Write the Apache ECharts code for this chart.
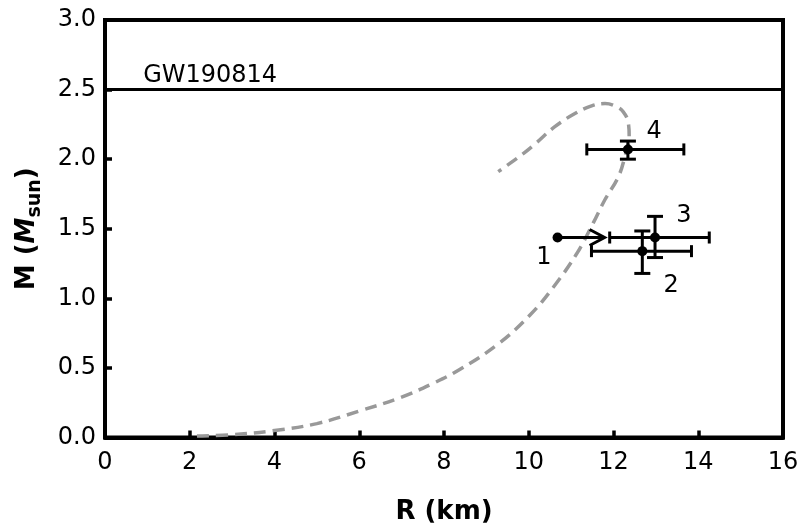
<!DOCTYPE html>
<html>
<head>
<meta charset="utf-8">
<script src="https://cdn.jsdelivr.net/npm/echarts@6/dist/echarts.min.js"></script>
<style>html,body{margin:0;padding:0;background:#fff;}#c{width:799px;height:526px;}</style>
</head>
<body>
<div id="c"></div>
<script>
// Mass-radius curve (R in km, M in solar masses)
const curveR = [2.17, 3.0, 4.0, 5.0, 6.0, 7.0, 7.75, 8.38, 9.27, 10.03, 10.58, 11.13, 11.52, 11.8, 12.11, 12.27, 12.37, 12.35, 12.23, 12.05, 11.8, 11.5, 11.1, 10.6, 10.19, 9.87, 9.28];
const curveM = [0.01, 0.02, 0.05, 0.10, 0.19, 0.29, 0.39, 0.49, 0.67, 0.88, 1.08, 1.32, 1.54, 1.71, 1.87, 2.02, 2.16, 2.26, 2.34, 2.38, 2.40, 2.385, 2.33, 2.23, 2.12, 2.04, 1.91];

// Measurements with error bars
const pointR = [12.68, 12.98, 12.34];
const pointM = [1.339, 1.437, 2.07];
const pointRlo = [11.48, 11.91, 11.37];
const pointRhi = [13.84, 14.26, 13.66];
const pointMlo = [1.179, 1.293, 2.00];
const pointMhi = [1.484, 1.589, 2.13];

// Lower limit (point 1)
const limitR = 10.68;
const limitM = 1.437;
const limitArrowR = 11.79;

// Labels
const labelText = ['1', '2', '3', '4'];
const labelR = [10.36, 13.36, 13.66, 12.96];
const labelM = [1.29, 1.09, 1.59, 2.195];

const gwMass = 2.5;
const gwText = 'GW190814';
const gwTextR = 0.9;
const gwTextM = 2.6;

const FONT = 'DejaVu Sans';
const chart = echarts.init(document.getElementById('c'));

const curveData = curveR.map((r, i) => [r, curveM[i]]);
const errData = pointR.map((r, i) => [r, pointM[i], pointRlo[i], pointRhi[i], pointMlo[i], pointMhi[i]]);
const labelData = labelText.map((t, i) => [labelR[i], labelM[i], t]);

const lineStyle = { stroke: '#000', lineWidth: 3 };

chart.setOption({
  animation: false,
  backgroundColor: '#fff',
  grid: { left: 105, right: 16, top: 20, bottom: 88.5, outerBoundsMode: 'none', containLabel: false, show: true, borderColor: '#000', borderWidth: 4, backgroundColor: 'transparent' },
  xAxis: {
    type: 'value', min: 0, max: 16, interval: 2,
    name: 'R (km)', nameLocation: 'middle', nameGap: 62,
    nameTextStyle: { fontFamily: FONT, fontWeight: 'bold', fontSize: 26, color: '#000' },
    axisLine: { show: true, lineStyle: { color: '#000', width: 4 } },
    axisTick: { show: true, inside: true, length: 7, lineStyle: { color: '#000', width: 3.5 } },
    axisLabel: { fontFamily: FONT, fontSize: 24, color: '#000', margin: 13 },
    splitLine: { show: false }
  },
  yAxis: {
    type: 'value', min: 0, max: 3, interval: 0.5,
    name: '{b|M (}{i|M}{s|sun}{b|)}', nameLocation: 'middle', nameGap: 60, nameRotate: 90,
    nameTextStyle: {
      fontFamily: FONT, color: '#000',
      rich: {
        b: { fontFamily: FONT, fontWeight: 'bold', fontSize: 26, color: '#000', lineHeight: 36 },
        i: { fontFamily: FONT, fontWeight: 'bold', fontStyle: 'italic', fontSize: 26, color: '#000', lineHeight: 36 },
        s: { fontFamily: FONT, fontWeight: 'bold', fontSize: 19, color: '#000', verticalAlign: 'bottom', lineHeight: 18 }
      }
    },
    axisLine: { show: true, lineStyle: { color: '#000', width: 4 } },
    axisTick: { show: true, inside: true, length: 7, lineStyle: { color: '#000', width: 3.5 } },
    axisLabel: { fontFamily: FONT, fontSize: 24, color: '#000', margin: 9, formatter: v => v.toFixed(1) },
    splitLine: { show: false }
  },
  series: [
    {
      type: 'line', data: curveData, smooth: 0.4, symbol: 'none', z: 2,
      lineStyle: { color: '#999999', width: 3.5, type: [12, 7] }
    },
    {
      type: 'line', data: [[0, gwMass], [16, gwMass]], symbol: 'none', z: 3,
      lineStyle: { color: '#000', width: 3 }
    },
    {
      type: 'custom', z: 5,
      data: errData,
      renderItem: (params, api) => {
        const c = api.coord([api.value(0), api.value(1)]);
        const l = api.coord([api.value(2), api.value(1)]);
        const r = api.coord([api.value(3), api.value(1)]);
        const b = api.coord([api.value(0), api.value(4)]);
        const t = api.coord([api.value(0), api.value(5)]);
        const hc = 6, vc = 8;
        return {
          type: 'group',
          children: [
            { type: 'line', shape: { x1: l[0], y1: c[1], x2: r[0], y2: c[1] }, style: lineStyle },
            { type: 'line', shape: { x1: l[0], y1: c[1] - hc, x2: l[0], y2: c[1] + hc }, style: lineStyle },
            { type: 'line', shape: { x1: r[0], y1: c[1] - hc, x2: r[0], y2: c[1] + hc }, style: lineStyle },
            { type: 'line', shape: { x1: c[0], y1: b[1], x2: c[0], y2: t[1] }, style: lineStyle },
            { type: 'line', shape: { x1: c[0] - vc, y1: b[1], x2: c[0] + vc, y2: b[1] }, style: lineStyle },
            { type: 'line', shape: { x1: c[0] - vc, y1: t[1], x2: c[0] + vc, y2: t[1] }, style: lineStyle },
            { type: 'circle', shape: { cx: c[0], cy: c[1], r: 5 }, style: { fill: '#000' } }
          ]
        };
      }
    },
    {
      type: 'custom', z: 5,
      data: [[limitR, limitM, limitArrowR]],
      renderItem: (params, api) => {
        const s = api.coord([api.value(0), api.value(1)]);
        const e = api.coord([api.value(2), api.value(1)]);
        return {
          type: 'group',
          children: [
            { type: 'line', shape: { x1: s[0], y1: s[1], x2: e[0], y2: e[1] }, style: lineStyle },
            { type: 'polyline', shape: { points: [[e[0] - 15, e[1] - 8], [e[0], e[1]], [e[0] - 15, e[1] + 8]] }, style: { stroke: '#000', lineWidth: 3, fill: null } },
            { type: 'circle', shape: { cx: s[0], cy: s[1], r: 5 }, style: { fill: '#000' } }
          ]
        };
      }
    },
    {
      type: 'custom', z: 6,
      data: labelData.concat([[gwTextR, gwTextM, gwText]]),
      renderItem: (params, api) => {
        const p = api.coord([api.value(0), api.value(1)]);
        const isGw = params.dataIndex >= labelData.length;
        const txt = isGw ? gwText : labelData[params.dataIndex][2];
        return {
          type: 'text',
          x: p[0], y: p[1],
          style: { text: txt, fontFamily: FONT, fontSize: 24, fill: '#000', align: isGw ? 'left' : 'center', verticalAlign: 'middle' }
        };
      }
    }
  ]
});
</script>
</body>
</html>
